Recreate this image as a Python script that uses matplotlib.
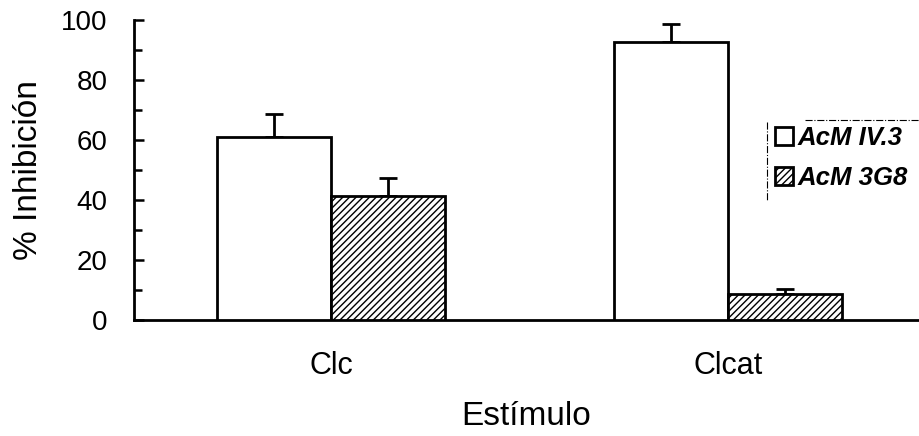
import matplotlib
matplotlib.use("Agg")
import matplotlib.pyplot as plt
import numpy as np
from matplotlib.ticker import MultipleLocator
from matplotlib.lines import Line2D

plt.rcParams['font.family'] = ['Liberation Sans', 'DejaVu Sans']
plt.rcParams['hatch.linewidth'] = 1.0

categories = ["Clc", "Clcat"]
series_names = ["AcM IV.3", "AcM 3G8"]
iv3_values = [61.0, 92.8]
iv3_err = [7.7, 5.8]
g8_values = [41.3, 8.7]
g8_err = [6.1, 1.8]

W, H = 919, 436
fig = plt.figure(figsize=(W/100, H/100), dpi=100)
ax = fig.add_axes([134/W, 1-320/H, 1-134/W, 300/H])

x = np.arange(len(categories))
w = 0.287
ax.bar(x - w/2, iv3_values, w, color='white', edgecolor='black', linewidth=2.0,
       label=series_names[0], zorder=3)
ax.bar(x + w/2, g8_values, w, color='white', edgecolor='black', linewidth=2.0,
       hatch='/////', label=series_names[1], zorder=3)
ax.errorbar(x - w/2, iv3_values, yerr=[np.zeros(2), iv3_err], fmt='none', ecolor='black',
            elinewidth=2.0, capsize=6.5, capthick=2.0, zorder=2)
ax.errorbar(x + w/2, g8_values, yerr=[np.zeros(2), g8_err], fmt='none', ecolor='black',
            elinewidth=2.0, capsize=6.5, capthick=2.0, zorder=2)

ax.set_xlim(-0.496, 1.48)
ax.set_ylim(0, 100)
ax.yaxis.set_major_locator(MultipleLocator(20))
ax.yaxis.set_minor_locator(MultipleLocator(10))
ax.set_xticks(x)
ax.set_xticklabels(categories, fontsize=22)
ax.tick_params(axis='x', length=0, pad=22)
ax.tick_params(axis='y', which='major', direction='in', length=7.5, width=1.8, labelsize=20, pad=19)
ax.tick_params(axis='y', which='minor', direction='in', length=5.5, width=1.8)

for s in ['top', 'right']:
    ax.spines[s].set_visible(False)
for s in ['left', 'bottom']:
    ax.spines[s].set_linewidth(2.0)

ax.set_ylabel('% Inhibición', fontsize=24, labelpad=12)
ax.set_xlabel('Estímulo', fontsize=24, labelpad=15)

fs = 18.5
em = fs * 100 / 72
leg = fig.legend(loc='upper left', bbox_to_anchor=(775/W, 1-126/H), frameon=False,
                 prop={'style': 'italic', 'weight': 'bold', 'size': fs},
                 handlelength=18/em, handleheight=18/em, handletextpad=5/em,
                 labelspacing=(42-em)/em, borderpad=0, borderaxespad=0)

# dash-dot frame remnants (left and top edges of legend box)
fig.add_artist(Line2D([767/W, 767/W], [1-122/H, 1-200/H], transform=fig.transFigure,
                      color='black', lw=0.8, ls='-.'))
fig.add_artist(Line2D([805/W, 1.0], [1-120/H, 1-120/H], transform=fig.transFigure,
                      color='black', lw=0.8, ls='-.'))

fig.savefig('out.png', dpi=100)
